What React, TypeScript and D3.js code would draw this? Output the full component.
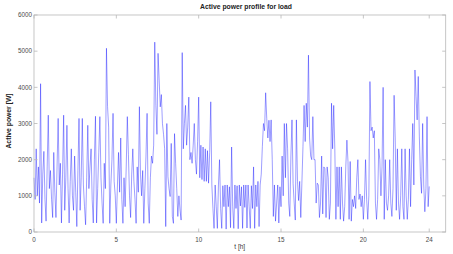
import React from "react";
import * as d3 from "d3";

// Active power [W], sampled every 4 minutes (15 samples per hour), hours 0-5
const powerH0to5 = [
  1500, 900, 2300, 1000, 1800, 800, 4100, 250, 1600, 2230, 900, 300, 1800, 3230, 1200,
  1700, 900, 400, 2200, 1100, 400, 1800, 3140, 1300, 1900, 250, 1600, 3230, 600, 1500,
  2950, 1200, 250, 1400, 2300, 1000, 600, 2100, 1100, 150, 1700, 3140, 600, 1500, 3140,
  1300, 700, 200, 1500, 2950, 1200, 1800, 2300, 900, 250, 2000, 3200, 250, 1200, 2200,
  3190, 1500, 800, 240, 1900, 1200, 5080, 3465, 2900, 240, 1300, 2000, 3280, 1400, 1000,
  240, 1300, 2200, 1100, 2600, 900, 240, 1500, 700, 1800, 3190, 2150, 1000, 400, 1600,
];
// hours 6-11
const powerH6to11 = [
  2300, 1400, 900, 240, 1800, 1100, 3465, 1600, 1000, 1700, 240, 1200, 2100, 3280, 800,
  240, 1500, 2100, 1900, 2400, 5250, 3500, 2700, 4940, 4200, 3460, 3800, 3000, 2700, 2300,
  150, 3000, 1530, 1200, 980, 2450, 430, 240, 2720, 1900, 1200, 430, 1000, 610, 330,
  4960, 2300, 3000, 3500, 2400, 2900, 3730, 2000, 2200, 1900, 2400, 3000, 2000, 1600, 2500,
  3730, 1500, 2400, 1450, 2350, 1400, 2300, 1400, 2250, 1350, 2200, 3600, 1300, 650, 100,
  1300, 700, 100, 1300, 2000, 650, 100, 1280, 700, 1300, 80, 1300, 700, 1250, 120,
];
// hours 12-17
const powerH12to17 = [
  2350, 700, 100, 1300, 650, 1280, 90, 1300, 720, 1250, 100, 1300, 680, 1300, 110,
  1300, 700, 100, 1280, 650, 1800, 100, 1300, 700, 1400, 150, 1300, 1600, 2360, 3000,
  2800, 3850, 3140, 2600, 3090, 2500, 3100, 2000, 430, 1300, 300, 800, 1300, 250, 1250,
  700, 2100, 1000, 3000, 1500, 3000, 2300, 800, 430, 2100, 3100, 1340, 800, 330, 3100,
  1400, 870, 1400, 400, 1350, 2360, 3500, 2500, 3560, 2900, 4890, 2600, 2100, 2000, 3190,
  2000, 2000, 800, 1350, 1300, 400, 800, 2100, 500, 1800, 1750, 400, 1800, 1500, 350,
];
// hours 18-23, plus the final sample at 24 h
const powerH18to24 = [
  800, 3560, 2300, 3500, 2300, 350, 1800, 700, 1800, 350, 1800, 800, 300, 700, 1800,
  2540, 1950, 350, 1950, 300, 900, 700, 1000, 650, 1500, 2000, 900, 1050, 700, 1000,
  350, 900, 2000, 900, 350, 1000, 4160, 2800, 2900, 2600, 2800, 800, 350, 900, 2300,
  2000, 1000, 1800, 4000, 350, 2000, 800, 600, 1000, 2000, 800, 430, 1200, 3780, 2600,
  600, 2300, 800, 350, 1000, 2300, 700, 350, 2300, 1000, 350, 900, 2300, 700, 2000,
  3000, 1300, 4480, 3750, 3100, 4300, 2630, 1530, 1070, 3000, 1300, 560, 1200, 3190, 700,
  1260,
];
const sampleStepHours = 4 / 60;

const xTicks = [0, 5, 10, 15, 20, 24];
const yTicks = [0, 1000, 2000, 3000, 4000, 5000, 6000];

const title = "Active power profile for load";
const xLabel = "t [h]";
const yLabel = "Active power [W]";

export default function App() {
  const W = 453;
  const H = 254;
  const left = 34;
  const right = 445.7;
  const top = 15;
  const bottom = 232;

  const power = [...powerH0to5, ...powerH6to11, ...powerH12to17, ...powerH18to24];
  const data = power.map((v, i) => ({ t: i * sampleStepHours, p: v }));

  const x = d3.scaleLinear().domain([0, 25]).range([left, right]);
  const y = d3.scaleLinear().domain([0, 6000]).range([bottom, top]);

  const line = d3
    .line<{ t: number; p: number }>()
    .x((d) => x(d.t))
    .y((d) => y(d.p));

  const font = "'Liberation Sans', Arial, Helvetica, sans-serif";
  const axisColor = "#b8b8b8";
  const labelColor = "#4a4a4a";
  const tickLen = 3.5;

  return (
    <svg
      width={W}
      height={H}
      style={{ position: "absolute", left: 0, top: 0, background: "#fff" }}
      fontFamily={font}
    >
      <rect x={0} y={0} width={W} height={H} fill="#fff" />
      <path
        d={line(data) || ""}
        fill="none"
        stroke="#0000ff"
        strokeOpacity={0.85}
        strokeWidth={0.45}
        strokeLinejoin="round"
      />
      {/* box */}
      <rect
        x={left}
        y={top}
        width={right - left}
        height={bottom - top}
        fill="none"
        stroke={axisColor}
        strokeWidth={0.8}
      />
      {/* x ticks */}
      {xTicks.map((t) => (
        <g key={"xt" + t}>
          <line x1={x(t)} x2={x(t)} y1={bottom} y2={bottom - tickLen} stroke={axisColor} strokeWidth={0.8} />
          <line x1={x(t)} x2={x(t)} y1={top} y2={top + tickLen} stroke={axisColor} strokeWidth={0.8} />
          <text x={x(t)} y={bottom + 9.5} fontSize={6.3} fill={labelColor} textAnchor="middle">
            {t}
          </text>
        </g>
      ))}
      {/* y ticks */}
      {yTicks.map((v) => (
        <g key={"yt" + v}>
          <line x1={left} x2={left + tickLen} y1={y(v)} y2={y(v)} stroke={axisColor} strokeWidth={0.8} />
          <line x1={right} x2={right - tickLen} y1={y(v)} y2={y(v)} stroke={axisColor} strokeWidth={0.8} />
          <text x={left - 2} y={y(v) + 2.2} fontSize={6.3} fill={labelColor} textAnchor="end">
            {v}
          </text>
        </g>
      ))}
      <text x={246} y={9.2} fontSize={6.8} fontWeight="bold" fill="#222" textAnchor="middle">
        {title}
      </text>
      <text x={239.7} y={249} fontSize={6.5} fill="#333" textAnchor="middle">
        {xLabel}
      </text>
      <text
        transform={`translate(10.6, 121) rotate(-90)`}
        fontSize={6.8}
        fontWeight="bold"
        fill="#222"
        textAnchor="middle"
      >
        {yLabel}
      </text>
    </svg>
  );
}
